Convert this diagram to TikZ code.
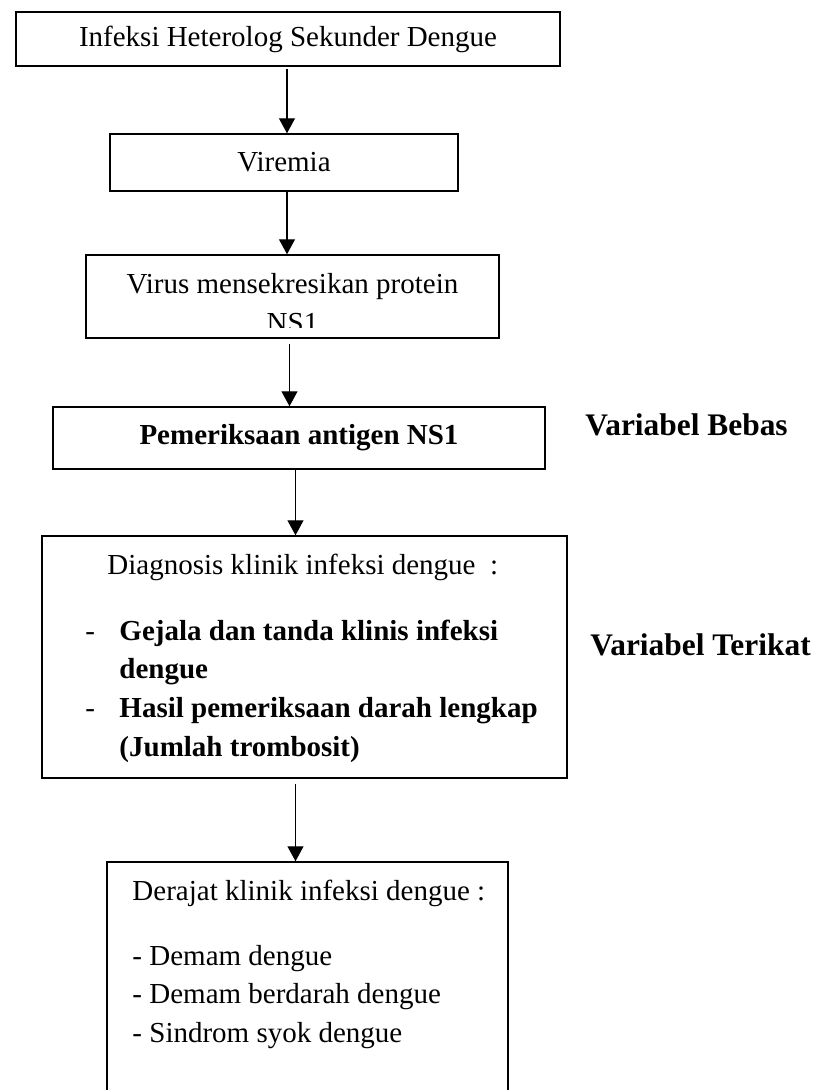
\documentclass[tikz,border=0pt]{standalone}
\usepackage{fontspec}
\setmainfont{Liberation Serif}
\usetikzlibrary{arrows.meta}
\newlength\pxu
\setlength\pxu{0.4138pt}
\tikzset{
  framebox/.style={draw, line width=0.6pt, inner sep=0pt, font=\fontsize{12}{14}\selectfont},
  flow/.style={line width=0.55pt, -{Triangle[length=6.2pt,width=6.6pt]}},
  bodytext/.style={inner sep=0pt, anchor=base west, font=\fontsize{12}{14}\selectfont},
  boldtext/.style={inner sep=0pt, anchor=base west, font=\fontsize{12}{14}\selectfont\bfseries},
  sidelabel/.style={inner sep=0pt, anchor=base west, font=\fontsize{13}{15}\selectfont\bfseries},
}

\begin{document}
\begin{tikzpicture}[x=0.4138pt, y=-0.4138pt]
  \useasboundingbox (0,0) rectangle (826,1090);
  \clip (0,0) rectangle (826,1090);
  % boxes
  \node[framebox, minimum width=544\pxu, minimum height=54\pxu] (infeksi) at (288,39) {Infeksi Heterolog Sekunder Dengue};
  \node[framebox, minimum width=348\pxu, minimum height=57\pxu] (viremia) at (284,162.5) {Viremia};
  \node[framebox, minimum width=413\pxu, minimum height=83\pxu] (sekresi) at (292.5,296.5) {};
  \begin{scope}
    \clip (86,255) rectangle (499,327);
    \node[bodytext, anchor=base] (sekresia) at (292.5,293) {Virus mensekresikan protein};
    \node[bodytext, anchor=base] (sekresib) at (292.5,332) {NS1};
  \end{scope}
  \node[framebox, minimum width=492\pxu, minimum height=62\pxu, font=\fontsize{12}{14}\selectfont\bfseries] (antigen) at (299,438) {Pemeriksaan antigen NS1};
  \node[framebox, minimum width=525\pxu, minimum height=242\pxu] (diagnosis) at (304.5,657) {};
  \node[framebox, minimum width=401\pxu, minimum height=233\pxu] (derajat) at (307.5,978.5) {};

  % text of the diagnosis box
  \node[bodytext] (diagjudul) at (107,574) {Diagnosis klinik infeksi dengue\ \ :};
  \node[bodytext] (diagstripa) at (85,640) {-};
  \node[boldtext] (gejala) at (119,640) {Gejala dan tanda klinis infeksi};
  \node[boldtext] (gejalab) at (119,678) {dengue};
  \node[bodytext] (diagstripb) at (85,717) {-};
  \node[boldtext] (hasil) at (119,717) {Hasil pemeriksaan darah lengkap};
  \node[boldtext] (hasilb) at (119,756) {(Jumlah trombosit)};

  % text of the last box
  \node[bodytext] (derajudul) at (132,900) {Derajat klinik infeksi dengue :};
  \node[bodytext] (demam) at (132,965) {- Demam dengue};
  \node[bodytext] (berdarah) at (132,1003) {- Demam berdarah dengue};
  \node[bodytext] (syok) at (132,1042) {- Sindrom syok dengue};

  % variable labels
  \node[sidelabel] (bebas) at (585,435) {Variabel Bebas};
  \node[sidelabel] (terikat) at (590,655) {Variabel Terikat};

  % arrows
  \coordinate (upper) at (287,0);
  \coordinate (middle) at (289.5,0);
  \coordinate (lower) at (295.5,0);
  \draw[flow, shorten <=0.8pt] (upper |- infeksi.south) -- (upper |- viremia.north);
  \draw[flow] (upper |- viremia.south) -- (upper |- sekresi.north);
  \draw[flow, shorten <=2pt] (middle |- sekresi.south) -- (middle |- antigen.north);
  \draw[flow] (lower |- antigen.south) -- (lower |- diagnosis.north);
  \draw[flow, shorten <=2pt] (lower |- diagnosis.south) -- (lower |- derajat.north);
\end{tikzpicture}
\end{document}
